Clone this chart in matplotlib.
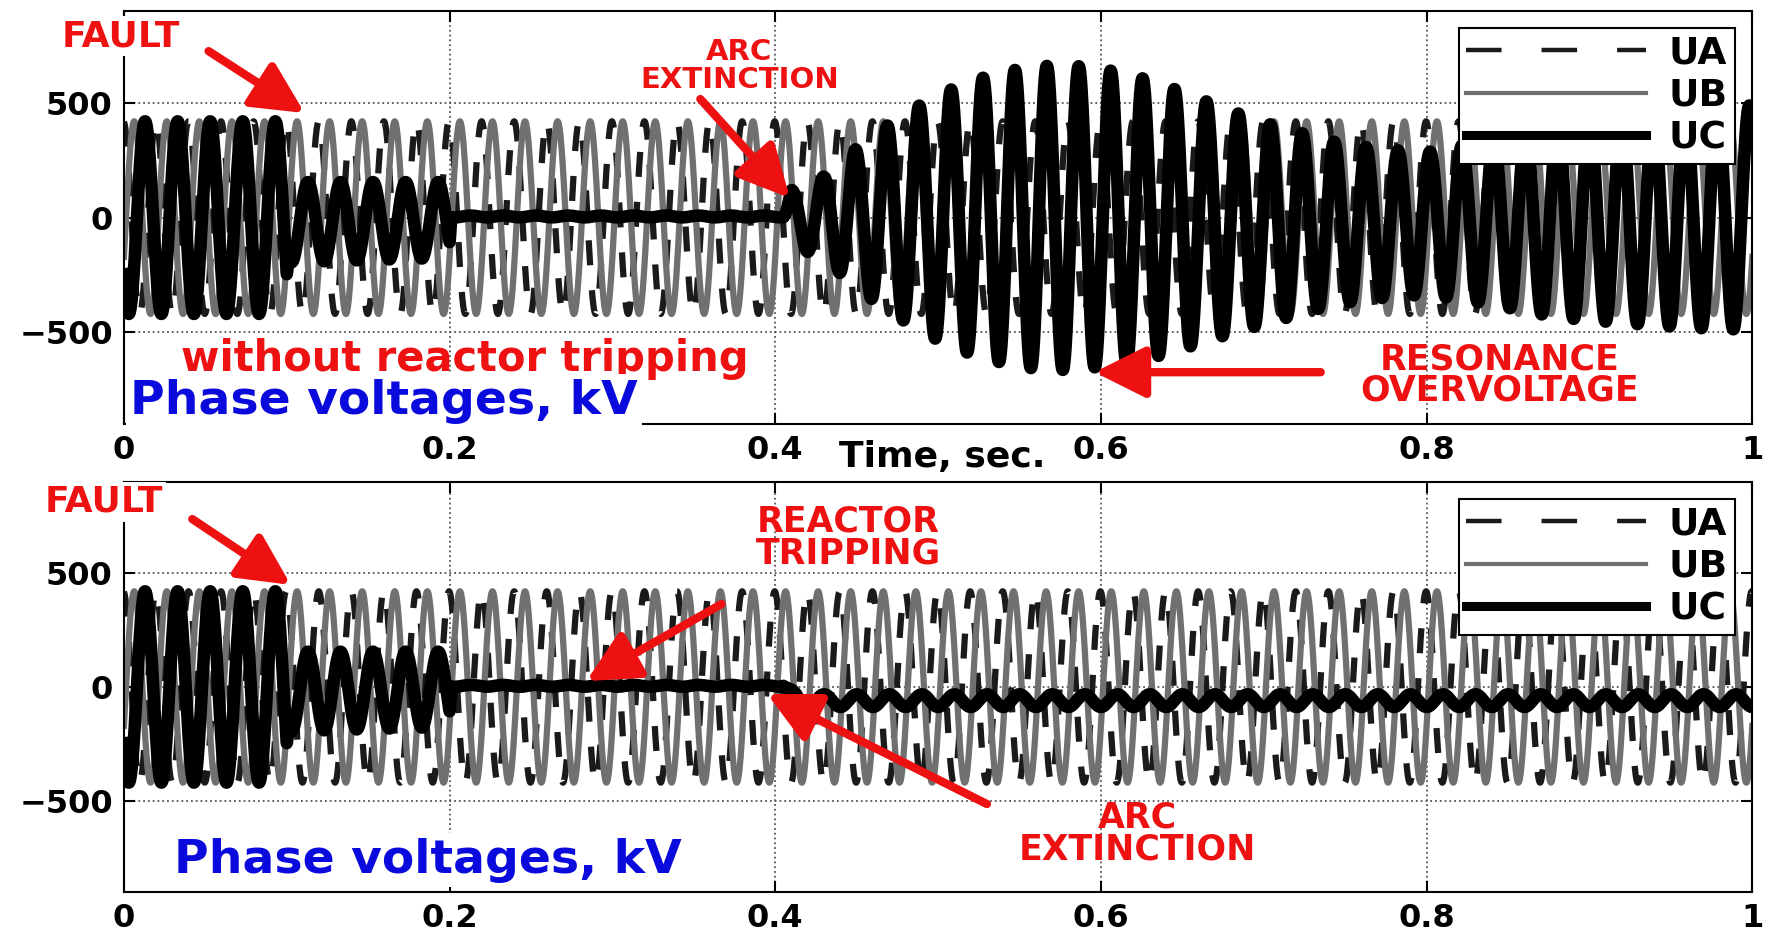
import numpy as np
import matplotlib.pyplot as plt

# time axis, s
t = np.linspace(0, 1, 20001)
f_grid = 50.0          # supply frequency, Hz
f_res_top = 51.0       # UC frequency after arc extinction, no reactor tripping
f_res_bot = 50.0       # UC frequency after arc extinction, with reactor tripping
t_ext = 0.405          # arc extinction time, s

# healthy phases, kV / deg
ua_amp, ub_amp = 420, 420
ph_a, ph_b, ph_c = 96, -24, -144

# UC envelope, top case: time (s), amplitude (kV), offset (kV)
uc1_t = [0.0, 0.100, 0.101, 0.200, 0.201, 0.405, 0.41, 0.43, 0.44, 0.46, 0.48,
         0.50, 0.52, 0.54, 0.56, 0.58, 0.60, 0.62, 0.64, 0.66, 0.68, 0.70,
         0.72, 0.74, 0.76, 0.78, 0.80, 0.84, 0.88, 0.92, 0.96, 1.0]
uc1_amp = [420, 420, 175, 165, 4, 4, 120, 180, 245, 360, 455,
           535, 595, 635, 660, 665, 650, 625, 585, 535, 485, 440,
           400, 360, 335, 320, 310, 360, 420, 450, 475, 490]
uc1_off = [0, 0, -20, -10, 5, 5, 0, 0, 0, 0, 0,
           0, 0, 0, 0, 0, 0, -5, -10, -15, -20, -25,
           -25, -25, -25, -25, -25, -20, -15, -10, -5, 0]

# UC envelope, bottom case (reactor tripped)
uc2_t = [0.0, 0.100, 0.101, 0.200, 0.201, 0.405, 0.415, 1.0]
uc2_amp = [420, 420, 175, 165, 4, 4, 28, 28]
uc2_off = [0, 0, -20, -10, 5, 5, -60, -60]

xticks = [0, 0.2, 0.4, 0.6, 0.8, 1.0]
xticklabels = ['0', '0.2', '0.4', '0.6', '0.8', '1']
yticks = [-500, 0, 500]
yticklabels = ['\u2212500', '0', '500']


def wave(amp, ph):
    return amp * np.sin(2 * np.pi * f_grid * t + np.radians(ph))


def phase_c(env_t, env_amp, env_off, f_after):
    amp = np.interp(t, env_t, env_amp)
    off = np.interp(t, env_t, env_off)
    carrier = np.where(t < t_ext,
                       np.sin(2 * np.pi * f_grid * t + np.radians(ph_c)),
                       np.sin(2 * np.pi * f_after * (t - t_ext)))
    return off + amp * carrier


ua = wave(ua_amp, ph_a)
ub = wave(ub_amp, ph_b)
uc_top = phase_c(uc1_t, uc1_amp, uc1_off, f_res_top)
uc_bot = phase_c(uc2_t, uc2_amp, uc2_off, f_res_bot)

RED = '#ee1111'
BLUE = '#0a0adc'
tick_fs = 23

fig = plt.figure(figsize=(17.7, 9.34), dpi=100)
ax1 = fig.add_axes([0.070, 0.546, 0.920, 0.442])
ax2 = fig.add_axes([0.070, 0.045, 0.920, 0.439])

for ax, uc in ((ax1, uc_top), (ax2, uc_bot)):
    ax.plot(t, ua, color='#1a1a1a', lw=4.5, linestyle=(0, (4, 4)), label='UA')
    ax.plot(t, ub, color='#707070', lw=4.5, label='UB')
    ax.plot(t, uc, color='black', lw=9, label='UC')
    ax.set_xlim(0, 1)
    ax.set_ylim(-900, 900)
    ax.set_xticks(xticks)
    ax.set_xticklabels(xticklabels)
    ax.set_yticks(yticks)
    ax.set_yticklabels(yticklabels)
    ax.grid(True, linestyle=':', color='#555555', linewidth=1.3)
    ax.set_axisbelow(True)
    ax.tick_params(direction='in', top=True, right=True, length=8, width=1.5,
                   labelsize=tick_fs, pad=8)
    for lab in ax.get_xticklabels() + ax.get_yticklabels():
        lab.set_fontweight('bold')
    for sp in ax.spines.values():
        sp.set_linewidth(1.5)
    leg = ax.legend(loc='upper right', prop={'weight': 'bold', 'size': 27},
                    handlelength=4.8, handletextpad=0.6, labelspacing=0.17,
                    borderpad=0.2, borderaxespad=0.45, fancybox=False,
                    framealpha=1, edgecolor='black')
    leg.get_frame().set_linewidth(1.5)
    for ln, w in zip(leg.get_lines(), (3.2, 3.0, 6.5)):
        ln.set_linewidth(w)
    leg.get_lines()[0].set_linestyle((0, (8, 9)))

arrow = dict(arrowstyle='-|>,head_length=1.3,head_width=0.65', color=RED,
             lw=6, mutation_scale=24, shrinkA=0, shrinkB=0)
red = dict(color=RED, fontweight='bold', clip_on=False, zorder=6)
white = dict(facecolor='white', edgecolor='none', pad=2)

# top panel: without reactor tripping
ax1.text(-0.038, 791, 'FAULT', ha='left', va='center', fontsize=26,
         bbox=white, **red)
ax1.annotate('', xy=(0.111, 456), xytext=(0.052, 726), arrowprops=arrow,
             annotation_clip=False)
ax1.text(0.378, 660, 'ARC\nEXTINCTION', ha='center', va='center',
         fontsize=21, linespacing=1.0, **red)
ax1.annotate('', xy=(0.409, 85), xytext=(0.354, 517), arrowprops=arrow)
ax1.text(0.035, -617, 'without reactor tripping', ha='left', va='center',
         fontsize=30, **red)
ax1.text(0.004, -800, 'Phase voltages, kV', ha='left', va='center',
         color=BLUE, fontweight='bold', fontsize=34, clip_on=False, zorder=7,
         bbox=dict(facecolor='white', edgecolor='none', pad=3))
ax1.text(0.845, -687, 'RESONANCE\nOVERVOLTAGE', ha='center', va='center',
         fontsize=25, linespacing=0.9, **red)
ax1.annotate('', xy=(0.596, -674), xytext=(0.735, -674), arrowprops=arrow)
fig.text(942 / 1770, 1 - 457 / 934, 'Time, sec.', ha='center', va='center',
         fontsize=26, fontweight='bold')

# bottom panel: with reactor tripping
ax2.text(-0.0485, 812, 'FAULT', ha='left', va='center', fontsize=26,
         bbox=white, **red)
ax2.annotate('', xy=(0.1025, 448), xytext=(0.042, 737), arrowprops=arrow,
             annotation_clip=False)
ax2.text(0.445, 656, 'REACTOR\nTRIPPING', ha='center', va='center',
         fontsize=25, linespacing=0.9, **red)
ax2.annotate('', xy=(0.284, 26), xytext=(0.367, 364), arrowprops=arrow)
ax2.text(0.6225, -643, 'ARC\nEXTINCTION', ha='center', va='center',
         fontsize=25, linespacing=0.9, **red)
ax2.annotate('', xy=(0.395, -31), xytext=(0.530, -514), arrowprops=arrow)
ax2.text(0.031, -760, 'Phase voltages, kV', ha='left', va='center',
         color=BLUE, fontweight='bold', fontsize=34, zorder=7,
         bbox=dict(facecolor='white', edgecolor='none', pad=3))

fig.savefig('out.png', dpi=100)
